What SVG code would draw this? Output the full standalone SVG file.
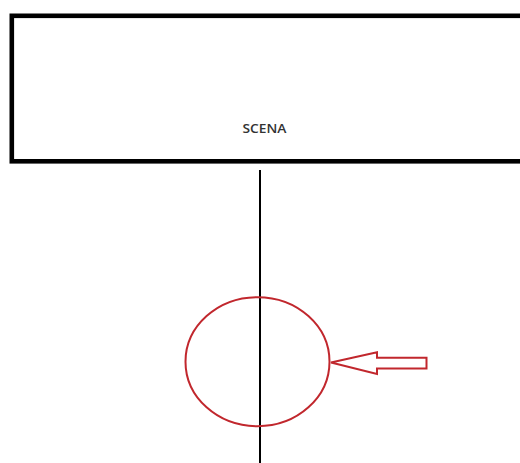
<svg xmlns="http://www.w3.org/2000/svg" width="520" height="463" viewBox="0 0 520 463">
<style>
.red{fill:none;stroke:#c1272d;stroke-width:2}
</style>
<rect width="520" height="463" fill="#fff"/>
<g id="scena">
<rect x="11.8" y="15.8" width="520" height="145.5" fill="none" stroke="#000" stroke-width="4.6"/>
<text x="264.5" y="132.5" font-family="Open Sans, Liberation Sans, sans-serif" font-size="12.5" font-weight="600" fill="#333" text-anchor="middle" textLength="44" lengthAdjust="spacingAndGlyphs">SCENA</text>
</g>
<g id="connectors">
<line x1="260" y1="170" x2="260" y2="463" stroke="#000" stroke-width="2"/>
</g>
<g id="circle">
<ellipse cx="257.5" cy="361.7" rx="72" ry="64.5" class="red"/>
</g>
<g id="arrow">
<polygon points="331,362.5 377,352.3 377,357.7 426.5,357.7 426.5,368.5 377,368.5 377,374" class="red"/>
</g>
</svg>
